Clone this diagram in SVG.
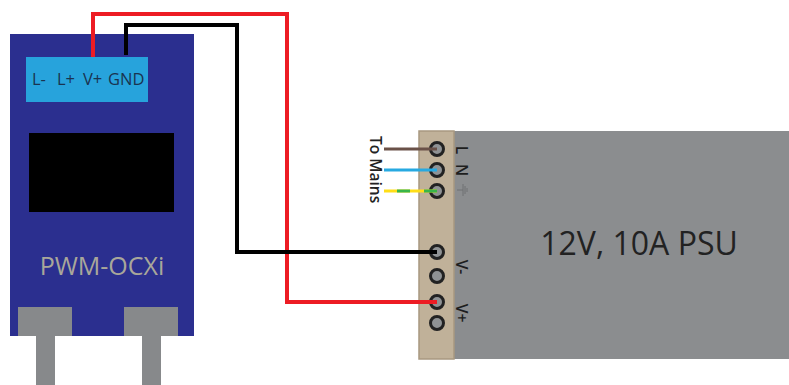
<svg xmlns="http://www.w3.org/2000/svg" width="789" height="385" viewBox="0 0 789 385">
<style>
text{font-family:"Open Sans","Noto Sans","Liberation Sans",sans-serif}
.t{fill:#1a3350;font-size:16.500px}
.p{fill:#1e1e1e;font-size:15.500px;font-weight:600}
.w{fill:none;stroke-width:4}
.h{fill:#8f9294;stroke:#222;stroke-width:3}
.g{fill:#87898b}
</style>
<rect width="789" height="385" fill="#fff"/>
<g id="pwm-module">
<rect x="36" y="335" width="19" height="50" class="g"/>
<rect x="142" y="335" width="19" height="50" class="g"/>
<rect x="10" y="34" width="184" height="302" fill="#2b2f8f"/>
<rect x="18" y="307" width="54" height="29" class="g"/>
<rect x="124" y="307" width="54" height="29" class="g"/>
<rect x="29" y="133" width="145" height="79" fill="#000"/>
<text x="102" y="275" text-anchor="middle" font-size="25" fill="#a9a79a">PWM-OCXi</text>
</g>
<g id="terminal-block">
<rect x="26" y="57" width="122" height="45" fill="#27a3dc"/>
<text x="32" y="85" class="t">L-</text>
<text x="57" y="85" class="t">L+</text>
<text x="83" y="85" class="t">V+</text>
<text x="108" y="85" class="t">GND</text>
</g>
<g id="psu">
<rect x="419" y="131" width="370" height="228" fill="#8b8d8f"/>
<rect x="419" y="131" width="35" height="228" fill="#c0b199" stroke="#a89880" stroke-width="1.500"/>
<text x="639" y="255" text-anchor="middle" font-size="32" fill="#222">12V, 10A PSU</text>
<text transform="translate(456,150) rotate(90)" class="p" text-anchor="middle">L</text>
<text transform="translate(456,170) rotate(90)" class="p" text-anchor="middle">N</text>
<path d="M457 190H463M463 184V196M465 186V194M467 188V192" fill="none" stroke="#6e7072" stroke-width="1"/>
<text transform="translate(456,267) rotate(90)" class="p" text-anchor="middle">V-</text>
<text transform="translate(456,313) rotate(90)" class="p" text-anchor="middle">V+</text>
<circle cx="437" cy="149" r="6.500" class="h"/>
<circle cx="437" cy="170" r="6.500" class="h"/>
<circle cx="437" cy="191" r="6.500" class="h"/>
<circle cx="437" cy="252" r="6.500" class="h"/>
<circle cx="437" cy="276" r="6.500" class="h"/>
<circle cx="437" cy="302" r="6.500" class="h"/>
<circle cx="437" cy="323" r="6.500" class="h"/>
</g>
<g id="connectors">
<path class="w" stroke="#ed1c24" d="M93 57V14H287V302H437"/>
<path class="w" stroke="#000" d="M126 55V25H237V252H437"/>
<path d="M384 149H437" fill="none" stroke="#6a5148" stroke-width="3"/>
<path d="M384 170H437" fill="none" stroke="#27a9e1" stroke-width="3"/>
<path d="M384 191H437" fill="none" stroke="#ffde17" stroke-width="3"/>
<path d="M397 191H410M424 191H437" fill="none" stroke="#39b54a" stroke-width="3"/>
</g>
<g id="mains-label">
<text transform="translate(370,136) rotate(90)" font-size="15.500" font-weight="600" fill="#222">To Mains</text>
</g>
</svg>
